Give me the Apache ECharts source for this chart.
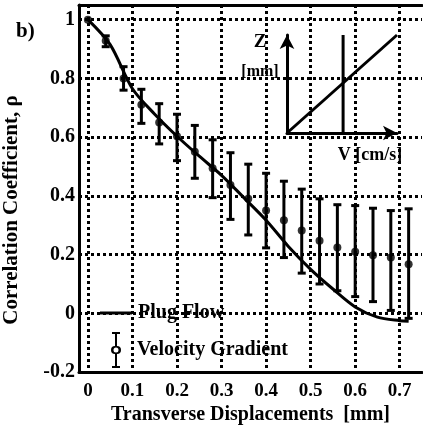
<!DOCTYPE html>
<html><head><meta charset="utf-8">
<script src="https://cdn.jsdelivr.net/npm/echarts@6/dist/echarts.min.js"></script>
<style>html,body{margin:0;padding:0;background:#fff}#c{width:423px;height:430px}</style>
</head><body><div id="c"></div>
<script>
// ---- data ----
const xTicks = [0, 0.1, 0.2, 0.3, 0.4, 0.5, 0.6, 0.7];
const yTicks = [-0.2, 0, 0.2, 0.4, 0.6, 0.8, 1];
const gradX    = [0, 0.04, 0.08, 0.12, 0.16, 0.20, 0.24, 0.28, 0.32, 0.36, 0.40, 0.44, 0.48, 0.52, 0.56, 0.60, 0.64, 0.68, 0.72];
const gradMean = [1.0, 0.928, 0.80, 0.71, 0.65, 0.603, 0.55, 0.494, 0.437, 0.39, 0.35, 0.317, 0.282, 0.247, 0.224, 0.21, 0.198, 0.19, 0.167];
const gradLow  = [1.0, 0.908, 0.76, 0.647, 0.577, 0.52, 0.46, 0.394, 0.32, 0.267, 0.223, 0.19, 0.137, 0.10, 0.077, 0.057, 0.04, 0.01, -0.017];
const gradHigh = [1.0, 0.945, 0.84, 0.763, 0.714, 0.678, 0.64, 0.591, 0.547, 0.508, 0.477, 0.45, 0.423, 0.39, 0.37, 0.367, 0.358, 0.35, 0.356];
const plugX = [0, 0.05, 0.1, 0.15, 0.2, 0.25, 0.3, 0.35, 0.4, 0.45, 0.5, 0.55, 0.6, 0.65, 0.7, 0.72];
const plugY = [1.0, 0.915, 0.765, 0.678, 0.603, 0.535, 0.47, 0.394, 0.317, 0.228, 0.15, 0.083, 0.022, -0.013, -0.025, -0.027];
// inset sketch (velocity profile schematic), in inset units 0..1
const insetDiagX = [0, 1], insetDiagY = [0, 1];
const insetVertX = [0.51, 0.51], insetVertY = [0, 1];

const F = 'Liberation Serif';
const chart = echarts.init(document.getElementById('c'));
const dot = {color: '#000', width: 3, type: [3, 3]};

chart.setOption({
  animation: false,
  backgroundColor: '#fff',
  grid: [
    {left: 79, top: 5, right: 1, bottom: 51},
    {left: 287, top: 35, width: 110, height: 98}
  ],
  xAxis: [
    {gridIndex: 0, type: 'value', min: -0.02, max: 0.75,
     axisLine: {show: true, onZero: false, lineStyle: {color: '#000', width: 3}},
     axisTick: {show: false, customValues: xTicks},
     axisLabel: {customValues: xTicks, color: '#000', fontFamily: F, fontWeight: 'bold', fontSize: 19, margin: 9},
     splitLine: {show: true, lineStyle: dot},
     name: 'Transverse Displacements  [mm]', nameLocation: 'middle', nameGap: 30,
     nameTextStyle: {color: '#000', fontFamily: F, fontWeight: 'bold', fontSize: 20}},
    {gridIndex: 0, type: 'value', position: 'top', min: -0.02, max: 0.75,
     axisLine: {show: true, onZero: false, lineStyle: {color: '#000', width: 3}},
     axisTick: {show: false}, axisLabel: {show: false}, splitLine: {show: false}},
    {gridIndex: 1, type: 'value', min: 0, max: 1,
     axisLine: {show: true, symbol: ['none', 'arrow'], symbolSize: [11, 14], lineStyle: {color: '#000', width: 3}},
     axisTick: {show: false}, axisLabel: {show: false}, splitLine: {show: false}}
  ],
  yAxis: [
    {gridIndex: 0, type: 'value', min: -0.2, max: 1.05,
     axisLine: {show: true, onZero: false, lineStyle: {color: '#000', width: 3}},
     axisTick: {show: false, customValues: yTicks},
     axisLabel: {customValues: yTicks, color: '#000', fontFamily: F, fontWeight: 'bold', fontSize: 20, margin: 4},
     splitLine: {show: true, lineStyle: dot}},
    {gridIndex: 1, type: 'value', min: 0, max: 1,
     axisLine: {show: true, symbol: ['none', 'arrow'], symbolSize: [11, 14], lineStyle: {color: '#000', width: 3}},
     axisTick: {show: false}, axisLabel: {show: false}, splitLine: {show: false}}
  ],
  legend: [
    {data: [{name: 'Plug Flow', icon: 'rect'}], left: 95, top: 298, itemWidth: 32, itemHeight: 3,
     textStyle: {color: '#000', fontFamily: F, fontWeight: 'bold', fontSize: 20, padding: [0, 0, 0, 1]}},
    {data: [{name: 'Velocity Gradient',
             icon: 'path://M2,0 L10,0 L10,2 L7,2 L7,14 A4,4 0 0 1 7,22 L7,34 L10,34 L10,36 L2,36 L2,34 L5,34 L5,22 A4,4 0 0 1 5,14 L5,2 L2,2 Z M6,15.5 A2.5,2.5 0 1 0 6,20.5 A2.5,2.5 0 1 0 6,15.5 Z'}],
     left: 106, top: 327, itemWidth: 12, itemHeight: 36,
     textStyle: {color: '#000', fontFamily: F, fontWeight: 'bold', fontSize: 20, padding: [0, 0, 0, 10]}}
  ],
  graphic: [
    {type: 'text', left: 16, top: 21, style: {text: 'b)', fill: '#000', font: 'bold 21px "Liberation Serif"'}},
    {type: 'text', x: 12, y: 210, rotation: Math.PI / 2,
     style: {text: 'Correlation Coefficient, ρ', fill: '#000', font: 'bold 21px "Liberation Serif"', align: 'center', verticalAlign: 'middle'}},
    {type: 'text', x: 260, y: 42, style: {text: 'Z', fill: '#000', font: 'bold 19px "Liberation Serif"', align: 'center', verticalAlign: 'middle'}},
    {type: 'text', x: 260, y: 72, style: {text: '[mm]', fill: '#000', font: 'bold 16px "Liberation Serif"', align: 'center', verticalAlign: 'middle'}},
    {type: 'text', x: 370, y: 155, style: {text: 'V [cm/s]', fill: '#000', font: 'bold 18px "Liberation Serif"', align: 'center', verticalAlign: 'middle'}}
  ],
  series: [
    {name: 'Plug Flow', type: 'line', xAxisIndex: 0, yAxisIndex: 0, smooth: 0.3, showSymbol: false,
     lineStyle: {color: '#000', width: 3}, itemStyle: {color: '#000'}, z: 4,
     data: plugX.map((x, i) => [x, plugY[i]])},
    {name: 'Velocity Gradient', type: 'custom', xAxisIndex: 0, yAxisIndex: 0, z: 5,
     itemStyle: {color: '#000'},
     data: gradX.map((x, i) => [x, gradMean[i], gradLow[i], gradHigh[i]]),
     renderItem: function (params, api) {
       const x = api.value(0);
       const pHi = api.coord([x, api.value(3)]);
       const pLo = api.coord([x, api.value(2)]);
       const s = {stroke: '#000', lineWidth: 3};
       const hw = 4;
       if (Math.abs(pLo[1] - pHi[1]) < 2) return {type: 'group', children: []};
       return {type: 'group', children: [
         {type: 'line', shape: {x1: pHi[0], y1: pHi[1], x2: pLo[0], y2: pLo[1]}, style: s},
         {type: 'line', shape: {x1: pHi[0] - hw, y1: pHi[1], x2: pHi[0] + hw, y2: pHi[1]}, style: s},
         {type: 'line', shape: {x1: pLo[0] - hw, y1: pLo[1], x2: pLo[0] + hw, y2: pLo[1]}, style: s}
       ]};
     }},
    {name: 'Velocity Gradient', type: 'scatter', xAxisIndex: 0, yAxisIndex: 0, z: 6,
     symbol: 'circle', symbolSize: 8, itemStyle: {color: '#000'},
     data: gradX.map((x, i) => [x, gradMean[i]])},
    {name: 'insetDiag', type: 'line', xAxisIndex: 2, yAxisIndex: 1, showSymbol: false,
     lineStyle: {color: '#000', width: 3}, data: insetDiagX.map((x, i) => [x, insetDiagY[i]])},
    {name: 'insetVert', type: 'line', xAxisIndex: 2, yAxisIndex: 1, showSymbol: false,
     lineStyle: {color: '#000', width: 3}, data: insetVertX.map((x, i) => [x, insetVertY[i]])}
  ]
});
</script></body></html>
